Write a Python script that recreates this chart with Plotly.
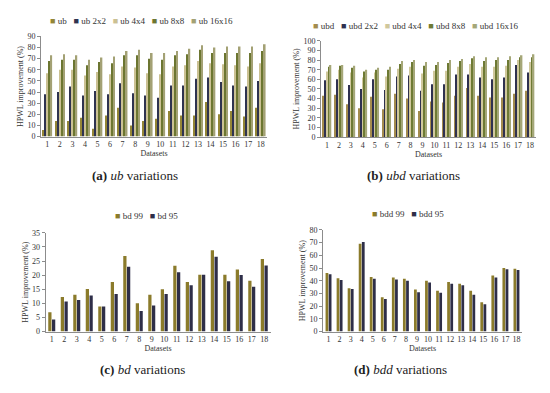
import plotly.graph_objects as go

datasets = [str(i) for i in range(1, 19)]

# (a) ub variations
ub_names = ["ub", "ub 2x2", "ub 4x4", "ub 8x8", "ub 16x16"]
ub = [6, 14, 14, 17, 7, 19, 26, 10, 14, 16, 23, 19, 19, 31, 20, 23, 18, 26]
ub_2x2 = [38, 40, 45, 37, 41, 38, 48, 39, 37, 35, 46, 46, 52, 53, 49, 46, 45, 50]
ub_4x4 = [57, 60, 60, 55, 58, 56, 63, 62, 57, 56, 63, 64, 68, 66, 65, 64, 63, 66]
ub_8x8 = [68, 69, 69, 64, 67, 66, 73, 73, 70, 69, 73, 74, 78, 75, 75, 75, 75, 77]
ub_16x16 = [73, 74, 73, 69, 71, 72, 77, 78, 75, 75, 77, 79, 82, 80, 81, 81, 81, 83]

# (b) ubd variations
ubd_names = ["ubd", "ubd 2x2", "ubd 4x4", "ubd 8x8", "ubd 16x16"]
ubd = [43, 44, 34, 30, 42, 29, 45, 40, 27, 37, 36, 43, 51, 43, 41, 41, 45, 48]
ubd_2x2 = [59, 60, 54, 50, 60, 49, 63, 64, 48, 55, 55, 65, 65, 62, 60, 62, 75, 67]
ubd_4x4 = [68, 70, 67, 62, 67, 63, 71, 73, 66, 69, 69, 73, 76, 73, 73, 74, 80, 78]
ubd_8x8 = [73, 74, 72, 68, 70, 70, 76, 78, 74, 75, 77, 79, 82, 79, 80, 80, 83, 83]
ubd_16x16 = [75, 75, 74, 70, 72, 73, 79, 80, 78, 78, 80, 81, 84, 83, 83, 84, 85, 86]

# (c) bd variations
bd_names = ["bd 99", "bd 95"]
bd_99 = [6.8, 12.2, 13.0, 15.1, 8.9, 17.6, 26.8, 10.0, 13.0, 15.0, 23.3, 17.6, 20.1, 28.8, 20.1, 22.0, 18.0, 25.7]
bd_95 = [4.3, 10.6, 11.2, 12.8, 8.9, 13.3, 23.0, 7.3, 9.2, 13.3, 21.0, 16.4, 20.1, 26.5, 17.8, 20.0, 15.9, 23.4]

# (d) bdd variations
bdd_names = ["bdd 99", "bdd 95"]
bdd_99 = [46, 42, 34, 69, 43, 27, 42.5, 41.5, 33, 40, 32, 39, 37.5, 32, 23, 44, 50, 49.5]
bdd_95 = [45, 40.5, 33.5, 70.5, 41.5, 25.5, 41, 40, 31, 38.5, 30.5, 37.5, 36.5, 29, 21.5, 42.5, 49, 48.5]

five_colors = ["#948636", "#2f3350", "#cbc193", "#6c7631", "#a3a174"]
five_colors_b = ["#a48c4e", "#2f3150", "#d0c89c", "#6e7a34", "#a5a778"]
two_colors = ["#8b7b2b", "#2e2e48"]

FONT = "Liberation Serif"
W, H = 550, 393
OFF = 8  # page body margin


def px(x):
    return (x - OFF) / W


def py(y):
    return 1 - (y - OFF) / H


panels = [
    dict(names=ub_names, series=[ub, ub_2x2, ub_4x4, ub_8x8, ub_16x16], colors=five_colors,
         xd=(41, 267), yd=(33, 135.5), ymax=90, dtick=10, slot=0.16, bw=0.13,
         leg=(141, 17), cap=(135, 175), captext="<b>(a)</b> <i>ub</i> variations"),
    dict(names=ubd_names, series=[ubd, ubd_2x2, ubd_4x4, ubd_8x8, ubd_16x16], colors=five_colors_b,
         xd=(321, 536), yd=(37.5, 136), ymax=100, dtick=10, slot=0.15, bw=0.12,
         leg=(415, 22), cap=(413, 175), captext="<b>(b)</b> <i>ubd</i> variations"),
    dict(names=bd_names, series=[bd_99, bd_95], colors=two_colors,
         xd=(45.5, 270.5), yd=(234, 335), ymax=35, dtick=5, slot=0.3, bw=0.26,
         leg=(146, 217), cap=(142, 374), captext="<b>(c)</b> <i>bd</i> variations"),
    dict(names=bdd_names, series=[bdd_99, bdd_95], colors=two_colors,
         xd=(323, 522), yd=(231, 335), ymax=80, dtick=10, slot=0.285, bw=0.25,
         leg=(408, 215), cap=(400, 374), captext="<b>(d)</b> <i>bdd</i> variations"),
]

fig = go.Figure()
annotations = []
for k, p in enumerate(panels, start=1):
    xa = "x" if k == 1 else f"x{k}"
    ya = "y" if k == 1 else f"y{k}"
    n = len(p["series"])
    for i, (nm, vals, col) in enumerate(zip(p["names"], p["series"], p["colors"])):
        fig.add_trace(go.Bar(
            x=datasets, y=vals, name=nm, marker_color=col, marker_line_width=0,
            width=p["bw"], offset=-n * p["slot"] / 2 + i * p["slot"] + (p["slot"] - p["bw"]) / 2,
            xaxis=xa, yaxis=ya, showlegend=False))
    axis_common = dict(showline=True, linecolor="#8c8c8c", linewidth=1, showgrid=False,
                       zeroline=False, tickfont=dict(family=FONT, size=8, color="#333"))
    fig.update_layout(**{
        ("xaxis" if k == 1 else f"xaxis{k}"): dict(
            domain=[px(p["xd"][0]), px(p["xd"][1])], anchor=ya, ticks="",
            title=dict(text="Datasets", font=dict(family=FONT, size=8, color="#333"), standoff=1),
            **axis_common),
        ("yaxis" if k == 1 else f"yaxis{k}"): dict(
            domain=[py(p["yd"][1]), py(p["yd"][0])], anchor=xa,
            range=[0, p["ymax"]], dtick=p["dtick"], ticks="outside", ticklen=3,
            tickcolor="#8c8c8c",
            title=dict(text="HPWL improvement (%)", font=dict(family=FONT, size=8, color="#333"), standoff=2),
            **axis_common),
    })
    leg_text = "   ".join(
        f'<span style="color:{c}">■</span> {nm}' for nm, c in zip(p["names"], p["colors"]))
    annotations.append(dict(text=leg_text, x=px(p["leg"][0]), y=py(p["leg"][1]),
                            xref="paper", yref="paper", showarrow=False,
                            xanchor="center", yanchor="middle",
                            font=dict(family=FONT, size=9, color="#333")))
    annotations.append(dict(text=p["captext"], x=px(p["cap"][0]), y=py(p["cap"][1]),
                            xref="paper", yref="paper", showarrow=False,
                            xanchor="center", yanchor="middle",
                            font=dict(family=FONT, size=13, color="#222")))

fig.update_layout(
    width=W, height=H, barmode="overlay",
    margin=dict(l=0, r=0, t=0, b=0),
    paper_bgcolor="white", plot_bgcolor="white",
    annotations=annotations,
)

fig.write_html("out.html")
